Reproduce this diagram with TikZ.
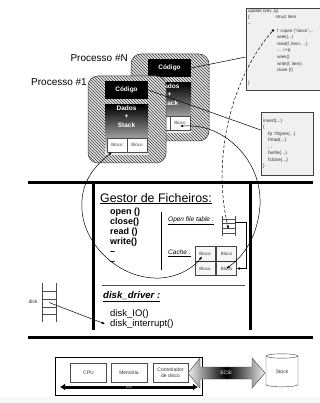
\documentclass[tikz,border=0pt]{standalone}
\usepackage{fontspec}
\setmainfont{Liberation Sans}
\usetikzlibrary{patterns,arrows.meta,shapes.geometric,calc}

\tikzset{
  endarrow/.style={-{Latex[length=3.2pt,width=2.6pt]}},
  botharrow/.style={{Latex[length=3.2pt,width=2.6pt]}-{Latex[length=3.2pt,width=2.6pt]}},
  hatchbox/.style={draw=gray!45!black, line width=.5pt, rounded corners=10pt,
    fill=gray!22, postaction={pattern=north west lines, pattern color=black!75}},
  codbox/.style={fill=black, text=white, font=\fontsize{6.5}{8}\selectfont\bfseries,
    minimum width=43pt, minimum height=18pt, inner sep=0},
  dadosbox/.style={shade, top color=black, bottom color=gray!12,
    minimum width=43pt, minimum height=50pt, inner sep=0},
  dadostxt/.style={text=white, align=center, inner sep=0,
    font=\fontsize{6.5}{8.5}\selectfont\bfseries},
  cell/.style={draw=gray!60!black, fill=white, text=gray!55!black,
    font=\fontsize{4.5}{5}\selectfont, minimum width=20pt, minimum height=14pt, inner sep=0},
  cachecell/.style={draw=gray!55!black, fill=gray!6, text=gray!50!black,
    font=\fontsize{4.5}{5}\selectfont, minimum width=20pt, minimum height=15pt, inner sep=0},
  codebox/.style={draw=gray!50!black, fill=gray!12, line width=.6pt, inner sep=0},
  codetxt/.style={align=left, inner sep=0, text=black!80},
  hwbox/.style={draw=gray!60!black, fill=white, text=black!80, align=center,
    font=\fontsize{5}{6}\selectfont, minimum width=36pt, minimum height=19pt, inner sep=0},
  rail/.style={draw=black!70, line width=.6pt},
  heavy/.style={line width=3pt},
  processo/.pic={
    \path[hatchbox] (0,0) rectangle (78,87);
    \node[codbox] (-cod) at (38.5,14) {Código};
    \node[dadosbox] (-dad) at (38.5,54) {};
    \node[dadostxt] (-txt) at (38.5,40.5) {Dados\\+\\Stack};
    \node[cell] (-b1) at (29,69) {Bloco};
    \node[cell] (-b2) at (49,69) {Bloco};
  }
}

\begin{document}
\begin{tikzpicture}[x=1pt,y=-1pt]
\useasboundingbox (0,0) rectangle (320,403);
\fill[white] (0,0) rectangle (320,403);
\fill[gray!6] (0,397) rectangle (320,403);

% processes
\pic (pN) at (131,54) {processo};
\pic (p1) at (88,76) {processo};
\node[anchor=base east, inner sep=0, font=\fontsize{10}{12}\selectfont] (labN) at (128,61.6) {Processo \#N};
\node[anchor=base east, inner sep=0, font=\fontsize{10}{12}\selectfont] (lab1) at (87,85.6) {Processo \#1};

% user code listings
\node[codebox, minimum width=76pt, minimum height=82pt] (upd) at (284,49) {};
\node[codetxt, anchor=north west, font=\fontsize{4.5}{6.6}\selectfont] (updtxt) at (248,8.9) {update (key ,q)\\
\{\hspace*{26pt}struct item\\
–\\
\hspace*{29pt}f =open ("stock",...\\
\hspace*{29pt}seek(...)\\
\hspace*{29pt}read(f, item, ...)\\
\hspace*{29pt}... =+q\\
\hspace*{29pt}seek()\\
\hspace*{29pt}write(f, item)\\
\hspace*{29pt}close (f)\\
\mbox{}\\
\}};
\node[circle, fill=black, inner sep=0, minimum size=2.6pt] (dot) at (273,30.5) {};

\node[codebox, minimum width=52pt, minimum height=63pt] (ins) at (287,143.5) {};
\node[codetxt, anchor=north west, font=\fontsize{4.8}{6.5}\selectfont] (instxt) at (263,118.8) {insert(...)\\
\{\\
\hspace*{5pt}fp =fopen(...)\\
\hspace*{5pt}fread(...)\\
\hspace*{5pt}...\\
\hspace*{5pt}fwrite(...)\\
\hspace*{5pt}fclose(...)\\
\}};

% kernel frame
\draw[heavy] (28,182) -- (313,182);
\draw[heavy] (28,337) -- (313,337);
\draw[heavy] (93,182) -- (93,330);
\draw[heavy] (250,182) -- (250,330);

\node[anchor=base west, inner sep=0, font=\fontsize{12.4}{14}\selectfont] (gestor) at (100,202) {\underline{Gestor de Ficheiros:}};
\node[anchor=north west, inner sep=0, align=left, font=\fontsize{9}{10.1}\selectfont\bfseries] (funcs) at (110,207.4) {open ()\\close()\\read ()\\write()\\–\\–};
\draw[line width=.6pt] (161,212) -- (161,270);

\node[anchor=base west, inner sep=0, font=\fontsize{6.5}{7}\selectfont\itshape] (ofttxt) at (168,221.5) {\underline{Open file table :}};
\node[anchor=base west, inner sep=0, font=\fontsize{6.5}{7}\selectfont\itshape] (cachetxt) at (168,254.5) {\underline{Cache :}};

% open file table
\node[minimum width=13pt, minimum height=20pt, inner sep=0] (oft) at (228.5,226) {};
\draw[rail] (oft.north west) -- (oft.south west);
\draw[rail] (oft.north east) -- (oft.south east);
\foreach \f in {0.15,0.38,0.62,0.85}
  \draw[rail] ($(oft.north west)!\f!(oft.south west)$) -- ($(oft.north east)!\f!(oft.south east)$);

% cache blocks
\node[cachecell] (ctl) at (205,253.5) {Bloco};
\node[cachecell] (ctr) at (226.5,253.5) {Bloco};
\node[cachecell, minimum height=14pt] (cbl) at (205,268.5) {Bloco};
\node[cachecell, minimum height=14pt] (cbr) at (226.5,268.5) {Bloco};
\draw[line width=1.2pt, black!80] (ctl.south west) -- (ctr.south east);

% disk driver
\draw[line width=.6pt, gray!60!black] (102,285) -- (245,285);
\node[anchor=base west, inner sep=0, font=\fontsize{9.6}{11}\selectfont\bfseries\itshape] (drv) at (103,298.5) {\underline{disk\_driver :}};
\node[anchor=base west, inner sep=1pt, font=\fontsize{9.5}{11}\selectfont] (dio) at (109,316.4) {disk\_IO()};
\node[anchor=base west, inner sep=1pt, font=\fontsize{9.5}{11}\selectfont] (dint) at (109,326.4) {disk\_interrupt()};

% disk
\node[minimum width=14pt, minimum height=39pt, inner sep=0] (dsk) at (49,302.5) {};
\draw[rail] (dsk.north west) -- (dsk.south west);
\draw[rail] (dsk.north east) -- (dsk.south east);
\foreach \f in {0.22,0.42,0.62,0.81}
  \draw[rail] ($(dsk.north west)!\f!(dsk.south west)$) -- ($(dsk.north east)!\f!(dsk.south east)$);
\node[font=\fontsize{5}{6}\selectfont, text=black!80, inner sep=0] (dsklab) at (33,302) {disk};

% hardware
\node[draw=black, line width=.5pt, minimum width=147pt, minimum height=38pt, inner sep=0] (hw) at (128.5,376) {};
\node[hwbox] (cpu) at (88.5,372.5) {CPU};
\node[hwbox] (mem) at (129,372.5) {Memória};
\node[hwbox, minimum width=35pt] (ctrl) at (170.5,372.5) {Controlador\\de disco};
\coordinate (busL) at (60,387);
\coordinate (busR) at (198,387);
\draw[line width=3pt, {Latex[length=5pt,width=7pt]}-{Latex[length=5pt,width=7pt]}] (busL) -- (busR);
\node[font=\fontsize{4}{4}\selectfont, text=gray!60, inner sep=0] (bustxt) at (129,387) {bus};

\shade[left color=gray!12, right color=gray!12, middle color=black, draw=gray!50!black, line width=.4pt]
  (188,373) -- (200,358) -- (200,367) -- (252,367) -- (252,358) -- (265,373)
  -- (252,388) -- (252,379) -- (200,379) -- (200,388) -- cycle;
\node[text=white, font=\fontsize{5}{6}\selectfont, inner sep=0] (scsi) at (226,373) {SCSI};
\node[cylinder, shape border rotate=90, aspect=0.35, draw=gray!50!black, fill=white,
  minimum width=32pt, minimum height=33pt, inner sep=0, text=black!80,
  font=\fontsize{5}{6}\selectfont] (stock) at (282,371.5) {Stock};

% connectors
\draw[line width=.5pt] (p1-cod.east) -- ([yshift=13.5pt]ins.west);
\draw[line width=.5pt] (pN-cod.east) -- ([yshift=-8pt]upd.west);
\draw[endarrow, line width=.5pt, dash pattern=on 3pt off 2pt]
  (dot) .. controls (230,80) and (212,160) .. ([yshift=-3pt]oft.center);
\draw[endarrow, line width=.5pt] ([yshift=4pt]oft.east) -- ++(11,0) |- (cbr.east);
\draw[botharrow, line width=.5pt] (p1-b1.235) .. controls (92,168) and (80,185) .. (82,210)
  .. controls (84,245) and (120,280) .. (160,278)
  .. controls (180,277) and (195,266) .. ([shift={(-3,3)}]ctl.center);
\draw[botharrow, line width=.5pt] ([yshift=-3pt]pN-b2.center) -- (192,126)
  .. controls (225,127) and (262,160) .. (260,205)
  .. controls (258,235) and (245,255) .. (cbr.center);
\draw[endarrow, line width=.5pt] (dsk.center) -- ([xshift=-4pt]dint.west);
\end{tikzpicture}
\end{document}
